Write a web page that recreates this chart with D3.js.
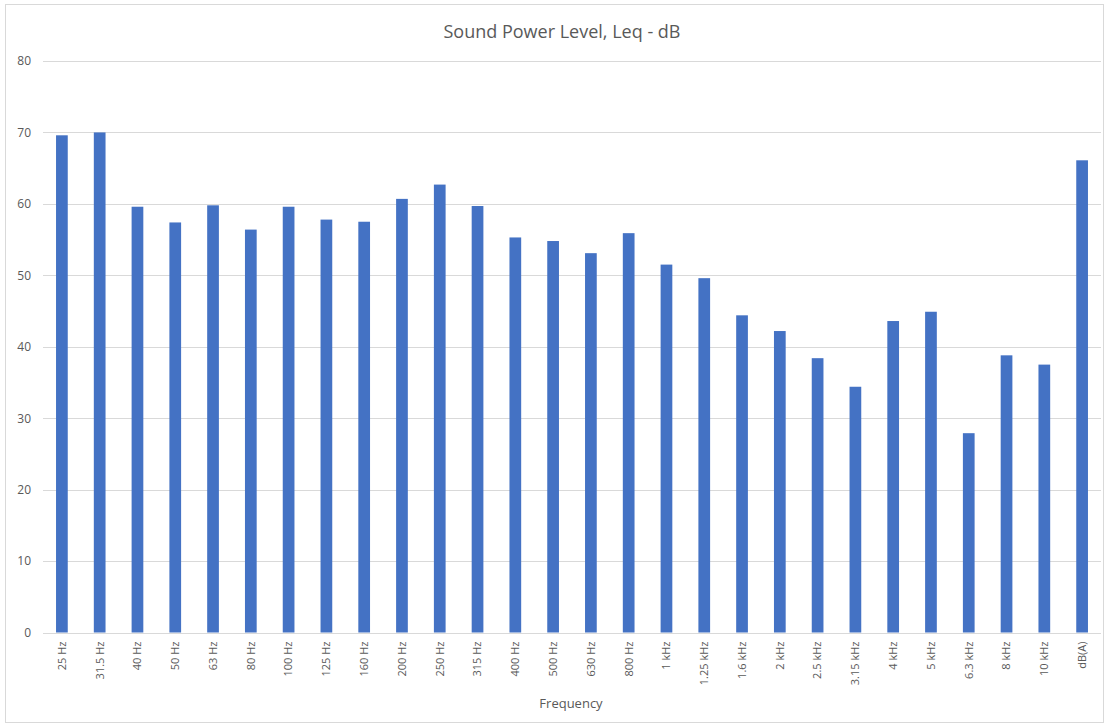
<!DOCTYPE html>
<html><head><meta charset="utf-8">
<script src="https://cdnjs.cloudflare.com/ajax/libs/d3/7.8.5/d3.min.js"></script>
<style>body{margin:0;background:#fff}svg{display:block}</style>
</head><body><svg id="c" width="1109" height="728"></svg>
<script>
const categories = ["25 Hz","31.5 Hz","40 Hz","50 Hz","63 Hz","80 Hz","100 Hz","125 Hz","160 Hz","200 Hz","250 Hz","315 Hz","400 Hz","500 Hz","630 Hz","800 Hz","1 kHz","1.25 kHz","1.6 kHz","2 kHz","2.5 kHz","3.15 kHz","4 kHz","5 kHz","6.3 kHz","8 kHz","10 kHz","dB(A)"];
const values = [69.6,70.0,59.6,57.4,59.8,56.4,59.6,57.8,57.5,60.7,62.7,59.7,55.3,54.8,53.1,55.9,51.5,49.6,44.4,42.2,38.4,34.4,43.6,44.9,27.9,38.8,37.5,66.1];
const yTicks = [0,10,20,30,40,50,60,70,80];
const title = "Sound Power Level, Leq - dB";
const xTitle = "Frequency";

const svg = d3.select("#c");
const font = "'Open Sans', 'Noto Sans', sans-serif";
const grey = "#595959";

svg.append("rect").attr("x",5.5).attr("y",4.5).attr("width",1098).attr("height",718)
  .attr("fill","#fff").attr("stroke","#d9d9d9");

const x = d3.scaleBand().domain(categories).range([43,1101]).paddingInner(0.69).paddingOuter(0.345);
const y = d3.scaleLinear().domain([0,80]).range([632.5,61]);

// gridlines
svg.append("g").selectAll("line").data(yTicks).join("line")
  .attr("x1",43).attr("x2",1101)
  .attr("y1",d=>Math.round(y(d))+0.5).attr("y2",d=>Math.round(y(d))+0.5)
  .attr("stroke","#d9d9d9").attr("stroke-width",1);

// y axis labels
const yAxis = d3.axisLeft(y).tickValues(yTicks).tickSize(0).tickPadding(0);
const gy = svg.append("g").attr("transform","translate(31,0)").call(yAxis);
gy.select(".domain").remove();
gy.selectAll("text").attr("font-family",font).attr("font-size",12).attr("fill",grey);

// bars
svg.append("g").selectAll("rect").data(values).join("rect")
  .attr("x",(d,i)=>x(categories[i]))
  .attr("width",x.bandwidth())
  .attr("y",d=>y(d))
  .attr("height",d=>y(0)-y(d))
  .attr("fill","#4472C4");

// x axis labels
const xAxis = d3.axisBottom(x).tickSize(0).tickPadding(0);
const gx = svg.append("g").attr("transform",`translate(0,${y(0)})`).call(xAxis);
gx.select(".domain").remove();
gx.selectAll("text")
  .attr("font-family",font).attr("font-size",11).attr("fill",grey)
  .attr("text-anchor","end").attr("dy","0.35em")
  .attr("transform","translate(0,9) rotate(-90)")
  .attr("x",0).attr("y",0);

svg.append("text").attr("x",562).attr("y",38).attr("text-anchor","middle")
  .attr("font-family",font).attr("font-size",18).attr("fill",grey).text(title);
svg.append("text").attr("x",571).attr("y",708).attr("text-anchor","middle")
  .attr("font-family",font).attr("font-size",13).attr("fill",grey).text(xTitle);
</script></body></html>
